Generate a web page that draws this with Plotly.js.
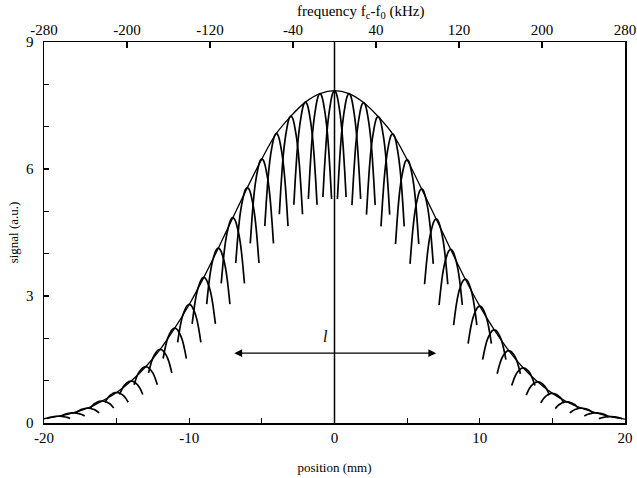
<!DOCTYPE html>
<html>
<head>
<meta charset="utf-8">
<script src="https://cdn.plot.ly/plotly-3.0.1.min.js"></script>
<style>html,body{margin:0;padding:0;background:#fff}#chart{width:637px;height:478px}</style>
</head>
<body>
<div id="chart"></div>
<script>
// Envelope of the signal, read at every mm of position
const envelopeX = [-20,-19,-18,-17,-16,-15,-14,-13,-12,-11,-10,-9,-8,-7,-6,-5,-4,-3,-2,-1,0,1,2,3,4,5,6,7,8,9,10,11,12,13,14,15,16,17,18,19,20];
const envelopeY = [0.10,0.16,0.24,0.35,0.52,0.72,0.99,1.33,1.74,2.24,2.80,3.44,4.13,4.85,5.56,6.24,6.84,7.25,7.58,7.78,7.85,7.78,7.57,7.24,6.83,6.22,5.53,4.82,4.10,3.40,2.76,2.20,1.71,1.30,0.97,0.70,0.50,0.35,0.24,0.15,0.09];

// Individual resonance peaks (position in mm, peak height)
const peakPos = [-19,-18,-17,-16,-15,-14,-13,-12,-11,-10,-9,-8,-7,-6,-5,-4,-3,-2,-1,0,1,2,3,4,5,6,7,8,9,10,11,12,13,14,15,16,17,18,19];
const peakHeight = [0.16,0.24,0.35,0.52,0.72,0.99,1.33,1.74,2.24,2.80,3.44,4.13,4.85,5.56,6.24,6.84,7.25,7.58,7.78,7.85,7.78,7.57,7.24,6.83,6.22,5.53,4.82,4.10,3.40,2.76,2.20,1.71,1.30,0.97,0.70,0.50,0.35,0.24,0.15];

// Shape of one peak: offset from its centre (mm) and fraction of its height
const peakOffset = [-0.8,-0.7,-0.6,-0.5,-0.4,-0.3,-0.2,-0.1,0,0.1,0.2,0.3,0.4,0.5,0.6,0.7,0.8];
const peakFraction = [0.68,0.76,0.83,0.885,0.925,0.955,0.98,0.995,1,0.995,0.98,0.955,0.925,0.885,0.83,0.76,0.68];

// Axis ticks
const bottomTicks = [-20,-10,0,10,20];
const bottomMinor = [-15,-5,5,15];
const leftTicks = [0,3,6,9];
const topTicks = [-280,-200,-120,-40,40,120,200,280];
const topRange = [-280,280];
const xRange = [-20,20];
const yRange = [0,9];

// Arrow marking length l
const arrowFrom = [-7,1.65];
const arrowTo = [7,1.65];

const ax = [], ay = [];
peakPos.forEach((p, k) => {
  peakOffset.forEach((u, j) => {
    ax.push(p + u);
    ay.push(peakHeight[k] * peakFraction[j]);
  });
  ax.push(null); ay.push(null);
});

const FONT = 'Liberation Serif, Times New Roman, serif';

const traces = [
  {x: envelopeX, y: envelopeY, mode: 'lines', line: {color: '#000', width: 1.3, shape: 'spline'}, hoverinfo: 'skip', showlegend: false},
  {x: ax, y: ay, mode: 'lines', line: {color: '#000', width: 1.7, shape: 'spline'}, connectgaps: false, hoverinfo: 'skip', showlegend: false},
  {x: topTicks, y: topTicks.map(() => null), xaxis: 'x2', mode: 'lines', hoverinfo: 'skip', showlegend: false}
];

const layout = {
  width: 637, height: 478,
  margin: {l: 44, r: 12, t: 42, b: 55},
  paper_bgcolor: '#fff', plot_bgcolor: '#fff',
  font: {family: FONT, color: '#000', size: 14},
  showlegend: false,
  xaxis: {
    range: xRange, tickvals: bottomTicks, ticktext: bottomTicks.map(String),
    ticks: 'inside', ticklen: 5, tickwidth: 1.2, tickcolor: '#000',
    showline: true, linecolor: '#000', linewidth: 1.5, mirror: false,
    showgrid: false, zeroline: false,
    tickfont: {family: FONT, size: 15, color: '#000'},
    minor: {tickvals: bottomMinor, ticks: 'inside', ticklen: 5, tickwidth: 1.2, tickcolor: '#000', showgrid: false},
    title: {text: 'position (mm)', font: {family: FONT, size: 13, color: '#000'}, standoff: 18}
  },
  xaxis2: {
    overlaying: 'x', side: 'top', range: topRange, tickvals: topTicks, ticktext: topTicks.map(String),
    ticks: 'inside', ticklen: 6, tickwidth: 1.2, tickcolor: '#000',
    showline: true, linecolor: '#000', linewidth: 1.5,
    showgrid: false, zeroline: false,
    tickfont: {family: FONT, size: 15, color: '#000'}
  },
  yaxis: {
    range: yRange, tickvals: leftTicks, ticktext: leftTicks.map(String),
    ticks: 'inside', ticklen: 5, tickwidth: 1.2, tickcolor: '#000', ticklabelstandoff: 6,
    showline: true, linecolor: '#000', linewidth: 1.5, mirror: true,
    showgrid: false, zeroline: false,
    tickfont: {family: FONT, size: 15, color: '#000'},
    minor: {dtick: 1, ticks: 'inside', ticklen: 5, tickwidth: 1.2, tickcolor: '#000', showgrid: false},
    title: {text: 'signal (a.u.)', font: {family: FONT, size: 13, color: '#000'}, standoff: 4}
  },
  shapes: [
    {type: 'line', xref: 'x', yref: 'paper', x0: 0, x1: 0, y0: 0, y1: 1, line: {color: '#000', width: 1.5}}
  ],
  annotations: [
    {x: 0.545, y: 1.0, xref: 'paper', yref: 'paper', yshift: 30, xanchor: 'center', yanchor: 'middle',
     text: 'frequency f<sub>c</sub>-f<sub>0</sub> (kHz)', showarrow: false, font: {family: FONT, size: 15, color: '#000'}},
    {x: arrowTo[0], y: arrowTo[1], ax: arrowFrom[0], ay: arrowFrom[1], xref: 'x', yref: 'y', axref: 'x', ayref: 'y',
     text: '', showarrow: true, arrowhead: 2, arrowside: 'end+start', arrowsize: 1.3, arrowwidth: 1.2, arrowcolor: '#000'},
    {x: -0.6, y: 2.05, xref: 'x', yref: 'y', text: '<i>l</i>', showarrow: false, font: {family: FONT, size: 16, color: '#000'}}
  ]
};

Plotly.newPlot('chart', traces, layout, {staticPlot: true, displayModeBar: false});
</script>
</body>
</html>
